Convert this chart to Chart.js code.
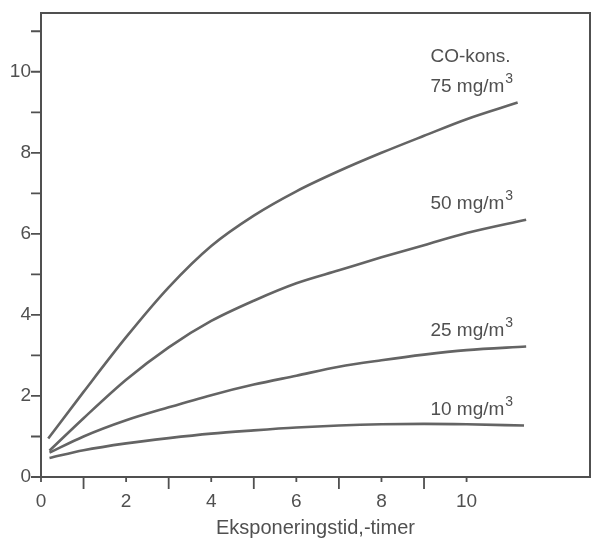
<!DOCTYPE html>
<html>
<head>
<meta charset="utf-8">
<script src="https://cdn.jsdelivr.net/npm/chart.js@4.4.1/dist/chart.umd.min.js"></script>
<style>
  html, body { margin: 0; padding: 0; background: #fff; }
  #wrap { width: 592px; height: 538px; }
</style>
</head>
<body>
<div id="wrap"><canvas id="myChart"></canvas></div>
<script>
// exposure time (hours) and CO-Hb values
const hours75 = [0.17, 1, 2, 3, 4, 5, 6, 7, 8, 9, 10, 11.2];
const co75 = [0.95, 2.1, 3.45, 4.68, 5.7, 6.45, 7.05, 7.55, 8.0, 8.42, 8.83, 9.24];
const hours50 = [0.2, 1, 2, 3, 4, 5, 6, 7, 8, 9, 10, 11.4];
const co50 = [0.65, 1.45, 2.4, 3.2, 3.85, 4.35, 4.78, 5.1, 5.42, 5.72, 6.02, 6.35];
const hours25 = [0.2, 1, 2, 3, 4, 5, 6, 7, 8, 9, 10, 11.4];
const co25 = [0.6, 1.0, 1.4, 1.72, 2.02, 2.28, 2.5, 2.72, 2.88, 3.02, 3.13, 3.22];
const hours10 = [0.2, 1, 2, 3, 4, 5, 6, 7, 8, 9, 10, 11.35];
const co10 = [0.47, 0.66, 0.83, 0.96, 1.07, 1.15, 1.22, 1.27, 1.3, 1.31, 1.3, 1.27];

const seriesNames = ['75 mg/m', '50 mg/m', '25 mg/m', '10 mg/m'];
const legendTitle = 'CO-kons.';
const xTickLabels = [0, 2, 4, 6, 8, 10];
const yTickLabels = [0, 2, 4, 6, 8, 10];
const xMinorTicks = [1, 3, 5, 7, 9];
const yMinorTicks = [1, 3, 5, 7, 9, 11];
const xTitle = 'Eksponeringstid,-timer';

const ink = '#505050';
const lineInk = '#646464';
const fontFam = '"Liberation Sans", Arial, sans-serif';

function toPoints(xs, ys) {
    return xs.map((x, i) => ({ x: x, y: ys[i] }));
}

function makeSet(label, xs, ys) {
    return {
        label: label,
        data: toPoints(xs, ys),
        borderColor: lineInk,
        borderWidth: 2.6,
        pointRadius: 0,
        fill: false,
        cubicInterpolationMode: 'monotone'
    };
}

// frame, ticks and curve labels
const framePlugin = {
    id: 'frame',
    afterDraw(chart) {
        const ctx = chart.ctx;
        const a = chart.chartArea;
        const xs = chart.scales.x;
        const ys = chart.scales.y;
        ctx.save();
        ctx.strokeStyle = ink;
        ctx.lineWidth = 2;
        ctx.strokeRect(a.left, a.top, a.right - a.left, a.bottom - a.top);
        ctx.lineWidth = 1.8;
        ctx.beginPath();
        xTickLabels.forEach(v => {
            const px = xs.getPixelForValue(v);
            ctx.moveTo(px, a.bottom); ctx.lineTo(px, a.bottom + 5);
        });
        xMinorTicks.forEach(v => {
            const px = xs.getPixelForValue(v);
            ctx.moveTo(px, a.bottom); ctx.lineTo(px, a.bottom + 12);
        });
        yTickLabels.concat(yMinorTicks).forEach(v => {
            const py = ys.getPixelForValue(v);
            ctx.moveTo(a.left, py); ctx.lineTo(a.left - 10, py);
        });
        ctx.stroke();

        // labels at the right end of each curve
        ctx.fillStyle = ink;
        ctx.textBaseline = 'alphabetic';
        ctx.textAlign = 'left';
        const lx = xs.getPixelForValue(9.15);
        chart.data.datasets.forEach((ds, i) => {
            const last = ds.data[ds.data.length - 1];
            const py = ys.getPixelForValue(last.y) - 11;
            ctx.font = '19px ' + fontFam;
            ctx.fillText(seriesNames[i], lx, py);
            const w = ctx.measureText(seriesNames[i]).width;
            ctx.font = '14px ' + fontFam;
            ctx.fillText('3', lx + w + 1, py - 9);
            if (i === 0) {
                ctx.font = '19px ' + fontFam;
                ctx.fillText(legendTitle, lx, py - 30);
            }
        });
        ctx.restore();
    }
};

const config = {
    type: 'line',
    data: {
        datasets: [
            makeSet(seriesNames[0], hours75, co75),
            makeSet(seriesNames[1], hours50, co50),
            makeSet(seriesNames[2], hours25, co25),
            makeSet(seriesNames[3], hours10, co10)
        ]
    },
    options: {
        responsive: true,
        maintainAspectRatio: false,
        animation: false,
        layout: { padding: { top: 13, right: 2, left: 0, bottom: 0 } },
        plugins: {
            legend: { display: false },
            tooltip: { enabled: false }
        },
        scales: {
            x: {
                type: 'linear',
                min: 0,
                max: 12.9,
                afterBuildTicks: s => { s.ticks = xTickLabels.map(v => ({ value: v })); },
                afterFit: s => { s.height = 61; s.paddingLeft = 0; s.paddingRight = 0; },
                grid: { display: false, drawTicks: false },
                border: { display: false },
                ticks: {
                    color: ink,
                    padding: 13,
                    maxRotation: 0,
                    font: { family: fontFam, size: 19 }
                },
                title: {
                    display: true,
                    text: xTitle,
                    color: ink,
                    padding: 0,
                    font: { family: fontFam, size: 20, lineHeight: 1 }
                }
            },
            y: {
                type: 'linear',
                min: 0,
                max: 11.45,
                afterBuildTicks: s => { s.ticks = yTickLabels.map(v => ({ value: v })); },
                afterFit: s => { s.width = 41; s.paddingTop = 0; s.paddingBottom = 0; },
                grid: { display: false, drawTicks: false },
                border: { display: false },
                ticks: {
                    color: ink,
                    padding: 10,
                    font: { family: fontFam, size: 19 }
                }
            }
        }
    },
    plugins: [framePlugin]
};

const myChart = new Chart(document.getElementById('myChart'), config);
</script>
</body>
</html>
